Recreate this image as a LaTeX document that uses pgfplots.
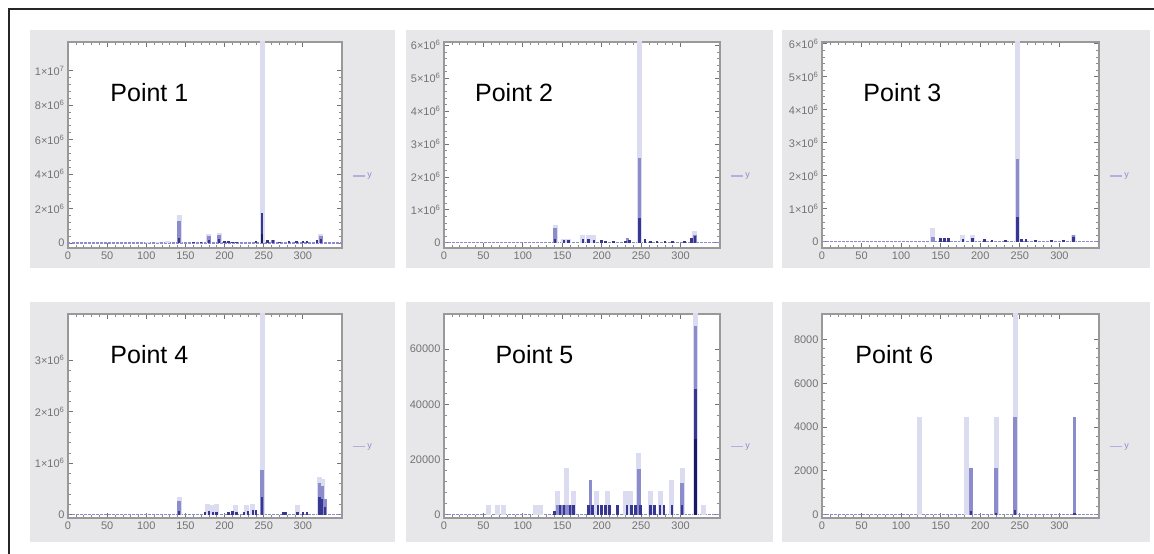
\documentclass[border=0pt]{standalone}
\usepackage{fontspec}
\setmainfont{Liberation Sans}
\usepackage{pgfplots}
\pgfplotsset{compat=1.18}

\definecolor{framec}{gray}{0.6}
\definecolor{panelbg}{RGB}{231,231,233}
\definecolor{barL}{RGB}{220,220,240}
\definecolor{barM}{RGB}{140,140,205}
\definecolor{barD}{RGB}{55,55,145}
\definecolor{barX}{RGB}{25,25,100}
\definecolor{legc}{RGB}{175,175,225}

\tikzset{ptlabel/.style={anchor=west, font=\fontsize{25}{29}\selectfont, text=black}}

\pgfplotsset{
  panel/.style={
    scale only axis,
    anchor=south west,
    xmin=0, xmax=350,
    xtick={0,50,...,300},
    minor x tick num=4,
    minor y tick num=4,
    scaled y ticks=false,
    axis line style={draw=framec, line width=1.2pt},
    major tick style={draw=black!55, line width=0.8pt},
    minor tick style={draw=black!45, line width=0.6pt},
    major tick length=5pt,
    minor tick length=3pt,
    axis background/.style={fill=white},
    tick label style={font=\fontsize{11}{12}\selectfont, text=black!55},
    /pgf/number format/assume math mode=true,
    legend style={at={(1.035,0.35)}, anchor=west, draw=none, fill=none,
      font=\fontsize{9}{10}\selectfont, text=barM, inner sep=0pt},
    legend image code/.code={\draw[legc, line width=1.5pt] (0pt,0pt) -- (12pt,0pt);},
  },
  lbar/.style={ycomb, barL, line width=5pt, forget plot},
  mbar/.style={ycomb, barM, line width=3.5pt, forget plot},
  dbar/.style={ycomb, barD, line width=2.5pt, forget plot},
  kbar/.style={ycomb, barX, line width=2.5pt, forget plot},
  base/.style={barM, dash pattern=on 2.5pt off 1.5pt, line width=1.4pt, forget plot},
}

\begin{document}
\begin{tikzpicture}
\useasboundingbox (0pt,0pt) rectangle (1154pt,554pt);

% panel backgrounds
\fill[panelbg] (30pt,286pt) rectangle (395pt,524pt);
\fill[panelbg] (406pt,286pt) rectangle (773pt,524pt);
\fill[panelbg] (782pt,286pt) rectangle (1150pt,524pt);
\fill[panelbg] (30pt,12pt) rectangle (395pt,252pt);
\fill[panelbg] (406pt,12pt) rectangle (773pt,252pt);
\fill[panelbg] (782pt,12pt) rectangle (1150pt,252pt);

% outer frame
\draw[line width=2pt, black!85] (9pt,0pt) -- (9pt,545pt) -- (1154pt,545pt);

% ---------- Point 1 ----------
\begin{axis}[panel, at={(68pt,306pt)}, width=274pt, height=206pt,
  ymin=-0.29, ymax=11.65, ytick={0,2,4,6,8,10},
  yticklabels={0,2×10\textsuperscript{6},4×10\textsuperscript{6},6×10\textsuperscript{6},8×10\textsuperscript{6},1×10\textsuperscript{7}}]
\addplot[base] coordinates {(0,0) (350,0)};
\addplot[lbar] coordinates {(101,0.08) (114,0.08) (127,0.1) (142,1.6) (180,0.55) (193,0.6) (248,14) (323,0.5)};
\addplot[mbar] coordinates {(142,1.25) (180,0.38) (193,0.44) (262,0.15) (323,0.38)};
\addplot[dbar] coordinates {(142,0.3) (160,0.08) (170,0.08) (180,0.2) (193,0.25) (200,0.1) (205,0.1) (210,0.08) (215,0.06) (240,0.1) (248,1.73) (255,0.2) (262,0.15) (270,0.08) (282,0.1) (292,0.1) (300,0.1) (305,0.12) (318,0.2) (323,0.25)};
\addplot[kbar] coordinates {(248,0.5)};
\addlegendimage{legc}\addlegendentry{y}
\node[ptlabel] at (rel axis cs:0.142,0.756) {Point 1};
\end{axis}

% ---------- Point 2 ----------
\begin{axis}[panel, at={(444pt,306pt)}, width=276pt, height=206pt,
  ymin=-0.16, ymax=6.1, ytick={0,1,2,3,4,5,6},
  yticklabels={0,1×10\textsuperscript{6},2×10\textsuperscript{6},3×10\textsuperscript{6},4×10\textsuperscript{6},5×10\textsuperscript{6},6×10\textsuperscript{6}}]
\addplot[base] coordinates {(0,0) (350,0)};
\addplot[lbar] coordinates {(141,0.55) (152,0.12) (158,0.12) (176,0.22) (183,0.22) (190,0.22) (248,8) (318,0.35)};
\addplot[mbar] coordinates {(141,0.45) (233,0.15) (248,2.57) (318,0.25)};
\addplot[dbar] coordinates {(141,0.1) (152,0.08) (158,0.08) (176,0.1) (183,0.1) (190,0.08) (200,0.08) (205,0.06) (215,0.05) (230,0.06) (235,0.08) (248,0.75) (255,0.1) (262,0.06) (270,0.05) (280,0.05) (290,0.05) (305,0.06) (314,0.15) (318,0.2)};
\addlegendimage{legc}\addlegendentry{y}
\node[ptlabel] at (rel axis cs:0.10,0.756) {Point 2};
\end{axis}

% ---------- Point 3 ----------
\begin{axis}[panel, at={(822pt,306pt)}, width=277pt, height=206pt,
  ymin=-0.19, ymax=6.05, ytick={0,1,2,3,4,5,6},
  yticklabels={0,1×10\textsuperscript{6},2×10\textsuperscript{6},3×10\textsuperscript{6},4×10\textsuperscript{6},5×10\textsuperscript{6},6×10\textsuperscript{6}}]
\addplot[base] coordinates {(0,0) (350,0)};
\addplot[lbar] coordinates {(140,0.41) (178,0.21) (190,0.21) (247,8) (318,0.2)};
\addplot[mbar] coordinates {(140,0.15) (247,2.52) (318,0.2)};
\addplot[dbar] coordinates {(150,0.1) (155,0.1) (160,0.1) (178,0.08) (190,0.1) (205,0.08) (215,0.05) (232,0.06) (247,0.76) (252,0.08) (258,0.08) (270,0.05) (290,0.05) (305,0.06) (318,0.15)};
\addlegendimage{legc}\addlegendentry{y}
\node[ptlabel] at (rel axis cs:0.137,0.756) {Point 3};
\end{axis}

% ---------- Point 4 ----------
\begin{axis}[panel, at={(68pt,36pt)}, width=274pt, height=204pt,
  ymin=-0.065, ymax=3.9, ytick={0,1,2,3},
  yticklabels={0,1×10\textsuperscript{6},2×10\textsuperscript{6},3×10\textsuperscript{6}}]
\addplot[base] coordinates {(0,0) (350,0)};
\addplot[lbar] coordinates {(142,0.35) (178,0.2) (185,0.19) (190,0.2) (214,0.19) (228,0.19) (236,0.2) (248,6) (293,0.19) (321,0.74) (325,0.7)};
\addplot[mbar] coordinates {(142,0.26) (248,0.87) (321,0.61) (325,0.55) (328,0.3)};
\addplot[dbar] coordinates {(142,0.08) (175,0.06) (180,0.08) (185,0.06) (190,0.06) (205,0.06) (210,0.08) (215,0.06) (225,0.06) (230,0.08) (236,0.1) (240,0.1) (248,0.35) (275,0.06) (278,0.06) (293,0.05) (300,0.06) (305,0.06) (321,0.35) (324,0.3) (328,0.15)};
\addlegendimage{legc}\addlegendentry{y}
\node[ptlabel] at (rel axis cs:0.142,0.80) {Point 4};
\end{axis}

% ---------- Point 5 ----------
\begin{axis}[panel, at={(444pt,36pt)}, width=276pt, height=204pt,
  ymin=-1200, ymax=72700, ytick={0,20000,40000,60000},
  yticklabels={0,20000,40000,60000}]
\addplot[base] coordinates {(0,0) (350,0)};
\addplot[lbar] coordinates {(56,3640) (68,3640) (75,3640) (116,3640) (122,3640) (144,8500) (155,17000) (164,8500) (194,8500) (207,8500) (230,8500) (237,8500) (247,22400) (262,8500) (274,8500) (289,12700) (302,17000) (319,90000) (329,3640)};
\addplot[mbar] coordinates {(144,3640) (150,3640) (155,3640) (160,3640) (186,12700) (247,16400) (302,11500) (319,68500)};
\addplot[dbar] coordinates {(140,1500) (147,3640) (152,3640) (160,3640) (164,3640) (183,3640) (188,3640) (195,3640) (200,3640) (205,3640) (210,3640) (220,3640) (232,3640) (238,3640) (243,3640) (249,3640) (262,3640) (267,3640) (274,3640) (279,3640) (289,3640) (302,3640) (319,45500)};
\addplot[kbar] coordinates {(319,27300)};
\addlegendimage{legc}\addlegendentry{y}
\node[ptlabel] at (rel axis cs:0.174,0.80) {Point 5};
\end{axis}

% ---------- Point 6 ----------
\begin{axis}[panel, at={(822pt,36pt)}, width=277pt, height=204pt,
  ymin=-150, ymax=9160, ytick={0,2000,4000,6000,8000},
  yticklabels={0,2000,4000,6000,8000}]
\addplot[base] coordinates {(0,0) (350,0)};
\addplot[lbar] coordinates {(122.6,4460) (183,4460) (220,4460) (244,12000)};
\addplot[mbar] coordinates {(188,2150) (220,2150) (244,4460) (319,4460)};
\addplot[dbar] coordinates {(188,150) (220,100) (244,200) (319,100)};
\addlegendimage{legc}\addlegendentry{y}
\node[ptlabel] at (rel axis cs:0.108,0.80) {Point 6};
\end{axis}
\end{tikzpicture}
\end{document}
